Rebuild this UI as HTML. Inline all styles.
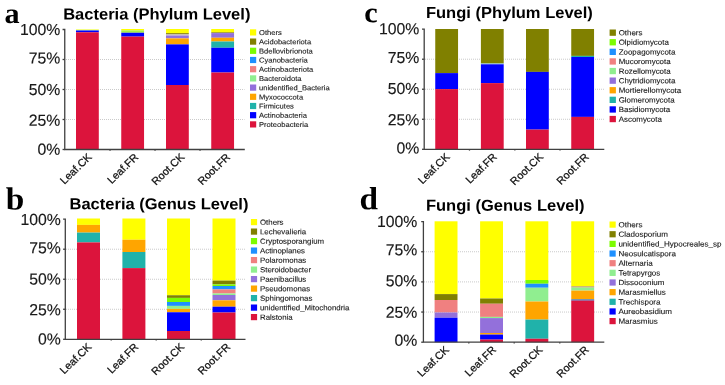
<!DOCTYPE html>
<html lang="en"><head><meta charset="utf-8"><title>Microbial community composition</title>
<style>html,body{margin:0;padding:0;background:#fff;}svg{display:block}text{font-family:"Liberation Sans",sans-serif;fill:#1a1a1a;text-rendering:geometricPrecision}.pl{font-family:"Liberation Serif","DejaVu Serif",serif;font-weight:bold;fill:#000}.tt{font-weight:bold;fill:#000}.xl{fill:#111;stroke:#111;stroke-width:0.25}.lg{fill:#1a1a1a;stroke:#1a1a1a;stroke-width:0.12}.yl{fill:#1a1a1a;stroke:#1a1a1a;stroke-width:0.15}.g{stroke:#bcbcbc;stroke-width:0.8;stroke-dasharray:1 1;fill:none}.ax{stroke:#404040;stroke-width:1.3;fill:none}</style></head><body>
<svg width="725" height="385" viewBox="0 0 725 385">
<rect width="725" height="385" fill="#fff"/>
<g id="chart-a">
<text class="pl" transform="translate(4.50 23.00) scale(1.04 1) rotate(0.03)" font-size="29">a</text>
<text class="tt" transform="translate(63.20 19.40) scale(1.039 1) rotate(0.03)" font-size="15.9">Bacteria (Phylum Level)</text>
<line class="g" x1="66" y1="119.50" x2="244.5" y2="119.50"/>
<line class="g" x1="66" y1="89.50" x2="244.5" y2="89.50"/>
<line class="g" x1="66" y1="59.50" x2="244.5" y2="59.50"/>
<rect x="76" y="29.4" width="22.8" height="0.50" fill="#FFFF00"/>
<rect x="76" y="29.9" width="22.8" height="0.60" fill="#90EE90"/>
<rect x="76" y="30.5" width="22.8" height="1.80" fill="#0000FF"/>
<rect x="76" y="32.3" width="22.8" height="117.20" fill="#DC143C"/>
<rect x="121.25" y="29.0" width="22.8" height="1.40" fill="#FFFF00"/>
<rect x="121.25" y="30.4" width="22.8" height="2.35" fill="#A8F040"/>
<rect x="121.25" y="32.75" width="22.8" height="3.85" fill="#0000FF"/>
<rect x="121.25" y="36.6" width="22.8" height="112.90" fill="#DC143C"/>
<rect x="166" y="29.0" width="22.8" height="4.00" fill="#FFFF00"/>
<rect x="166" y="33.0" width="22.8" height="1.00" fill="#989020"/>
<rect x="166" y="34.0" width="22.8" height="1.50" fill="#C8C0B0"/>
<rect x="166" y="35.5" width="22.8" height="2.90" fill="#9370DB"/>
<rect x="166" y="38.4" width="22.8" height="6.00" fill="#FFA500"/>
<rect x="166" y="44.4" width="22.8" height="40.60" fill="#0000FF"/>
<rect x="166" y="85.0" width="22.8" height="64.50" fill="#DC143C"/>
<rect x="211.25" y="29.0" width="22.8" height="3.20" fill="#FFFF00"/>
<rect x="211.25" y="32.2" width="22.8" height="0.90" fill="#989020"/>
<rect x="211.25" y="33.1" width="22.8" height="4.65" fill="#9370DB"/>
<rect x="211.25" y="37.75" width="22.8" height="3.75" fill="#FFA500"/>
<rect x="211.25" y="41.5" width="22.8" height="6.25" fill="#20B2AA"/>
<rect x="211.25" y="47.75" width="22.8" height="24.75" fill="#0000FF"/>
<rect x="211.25" y="72.5" width="22.8" height="77.00" fill="#DC143C"/>
<path class="ax" d="M62.55 29.5H64.75V149.5H244.8"/>
<line class="ax" x1="62.55" y1="149.50" x2="64.75" y2="149.50"/>
<line class="ax" x1="62.55" y1="119.50" x2="64.75" y2="119.50"/>
<line class="ax" x1="62.55" y1="89.50" x2="64.75" y2="89.50"/>
<line class="ax" x1="62.55" y1="59.50" x2="64.75" y2="59.50"/>
<line class="ax" x1="110.03" y1="149.5" x2="110.03" y2="150.8"/>
<line class="ax" x1="155.03" y1="149.5" x2="155.03" y2="150.8"/>
<line class="ax" x1="200.03" y1="149.5" x2="200.03" y2="150.8"/>
<text class="yl" transform="translate(60.30 35.10) scale(0.985 1) rotate(0.03)" font-size="16" text-anchor="end">100%</text>
<text class="yl" transform="translate(60.30 63.50) scale(0.985 1) rotate(0.03)" font-size="16" text-anchor="end">75%</text>
<text class="yl" transform="translate(60.30 94.90) scale(0.985 1) rotate(0.03)" font-size="16" text-anchor="end">50%</text>
<text class="yl" transform="translate(60.30 125.70) scale(0.985 1) rotate(0.03)" font-size="16" text-anchor="end">25%</text>
<text class="yl" transform="translate(60.30 154.65) scale(0.985 1) rotate(0.03)" font-size="16" text-anchor="end">0%</text>
<text class="xl" transform="translate(92.40 157.80) scale(1.04 1) rotate(-45)" font-size="10.5" text-anchor="end">Leaf.CK</text>
<text class="xl" transform="translate(139.15 157.80) scale(1.04 1) rotate(-45)" font-size="10.5" text-anchor="end">Leaf.FR</text>
<text class="xl" transform="translate(185.10 157.80) scale(1.04 1) rotate(-45)" font-size="10.5" text-anchor="end">Root.CK</text>
<text class="xl" transform="translate(230.95 157.80) scale(1.04 1) rotate(-45)" font-size="10.5" text-anchor="end">Root.FR</text>
<rect x="250" y="29.30" width="6.2" height="6.2" fill="#FFFF00"/>
<text class="lg" transform="translate(259.00 35.00) scale(1.066 1) rotate(0.03)" font-size="7.1">Others</text>
<rect x="250" y="38.50" width="6.2" height="6.2" fill="#808000"/>
<text class="lg" transform="translate(259.00 44.20) scale(1.066 1) rotate(0.03)" font-size="7.1">Acidobacteriota</text>
<rect x="250" y="47.70" width="6.2" height="6.2" fill="#7CFC00"/>
<text class="lg" transform="translate(259.00 53.40) scale(1.066 1) rotate(0.03)" font-size="7.1">Bdellovibrionota</text>
<rect x="250" y="56.90" width="6.2" height="6.2" fill="#1E90FF"/>
<text class="lg" transform="translate(259.00 62.60) scale(1.066 1) rotate(0.03)" font-size="7.1">Cyanobacteria</text>
<rect x="250" y="66.10" width="6.2" height="6.2" fill="#F08080"/>
<text class="lg" transform="translate(259.00 71.80) scale(1.066 1) rotate(0.03)" font-size="7.1">Actinobacteriota</text>
<rect x="250" y="75.30" width="6.2" height="6.2" fill="#90EE90"/>
<text class="lg" transform="translate(259.00 81.00) scale(1.066 1) rotate(0.03)" font-size="7.1">Bacteroidota</text>
<rect x="250" y="84.50" width="6.2" height="6.2" fill="#9370DB"/>
<text class="lg" transform="translate(259.00 90.20) scale(1.066 1) rotate(0.03)" font-size="7.1">unidentified_Bacteria</text>
<rect x="250" y="93.70" width="6.2" height="6.2" fill="#FFA500"/>
<text class="lg" transform="translate(259.00 99.40) scale(1.066 1) rotate(0.03)" font-size="7.1">Myxococcota</text>
<rect x="250" y="102.90" width="6.2" height="6.2" fill="#20B2AA"/>
<text class="lg" transform="translate(259.00 108.60) scale(1.066 1) rotate(0.03)" font-size="7.1">Firmicutes</text>
<rect x="250" y="112.10" width="6.2" height="6.2" fill="#0000FF"/>
<text class="lg" transform="translate(259.00 117.80) scale(1.066 1) rotate(0.03)" font-size="7.1">Actinobacteria</text>
<rect x="250" y="121.30" width="6.2" height="6.2" fill="#DC143C"/>
<text class="lg" transform="translate(259.00 127.00) scale(1.066 1) rotate(0.03)" font-size="7.1">Proteobacteria</text>
</g>
<g id="chart-b">
<text class="pl" transform="translate(5.70 209.60) scale(1.04 1) rotate(0.03)" font-size="32">b</text>
<text class="tt" transform="translate(69.50 209.30) scale(1.039 1) rotate(0.03)" font-size="15.9">Bacteria (Genus Level)</text>
<line class="g" x1="66" y1="309.27" x2="245" y2="309.27"/>
<line class="g" x1="66" y1="279.25" x2="245" y2="279.25"/>
<line class="g" x1="66" y1="249.22" x2="245" y2="249.22"/>
<rect x="77" y="218.5" width="23" height="6.40" fill="#FFFF00"/>
<rect x="77" y="224.9" width="23" height="7.70" fill="#FFA500"/>
<rect x="77" y="232.6" width="23" height="9.80" fill="#20B2AA"/>
<rect x="77" y="242.4" width="23" height="96.90" fill="#DC143C"/>
<rect x="122.4" y="218.5" width="23" height="21.25" fill="#FFFF00"/>
<rect x="122.4" y="239.75" width="23" height="12.25" fill="#FFA500"/>
<rect x="122.4" y="252.0" width="23" height="16.10" fill="#20B2AA"/>
<rect x="122.4" y="268.1" width="23" height="71.20" fill="#DC143C"/>
<rect x="167" y="218.5" width="23" height="76.75" fill="#FFFF00"/>
<rect x="167" y="295.25" width="23" height="2.65" fill="#808000"/>
<rect x="167" y="297.9" width="23" height="4.10" fill="#7CFC00"/>
<rect x="167" y="302.0" width="23" height="3.90" fill="#1E90FF"/>
<rect x="167" y="305.9" width="23" height="3.00" fill="#90EE90"/>
<rect x="167" y="308.9" width="23" height="3.35" fill="#FFA500"/>
<rect x="167" y="312.25" width="23" height="18.75" fill="#0000FF"/>
<rect x="167" y="331.0" width="23" height="8.30" fill="#DC143C"/>
<rect x="212.5" y="218.5" width="23" height="62.10" fill="#FFFF00"/>
<rect x="212.5" y="280.6" width="23" height="3.80" fill="#808000"/>
<rect x="212.5" y="284.4" width="23" height="1.60" fill="#7CFC00"/>
<rect x="212.5" y="286.0" width="23" height="3.40" fill="#1E90FF"/>
<rect x="212.5" y="289.4" width="23" height="4.10" fill="#F08080"/>
<rect x="212.5" y="293.5" width="23" height="1.50" fill="#90EE90"/>
<rect x="212.5" y="295.0" width="23" height="5.30" fill="#9370DB"/>
<rect x="212.5" y="300.3" width="23" height="6.40" fill="#FFA500"/>
<rect x="212.5" y="306.7" width="23" height="5.80" fill="#0000FF"/>
<rect x="212.5" y="312.5" width="23" height="26.80" fill="#DC143C"/>
<path class="ax" d="M63.099999999999994 219.2H65.3V339.3H245.5"/>
<line class="ax" x1="63.099999999999994" y1="339.30" x2="65.3" y2="339.30"/>
<line class="ax" x1="63.099999999999994" y1="309.27" x2="65.3" y2="309.27"/>
<line class="ax" x1="63.099999999999994" y1="279.25" x2="65.3" y2="279.25"/>
<line class="ax" x1="63.099999999999994" y1="249.22" x2="65.3" y2="249.22"/>
<line class="ax" x1="111.20" y1="339.3" x2="111.20" y2="340.6"/>
<line class="ax" x1="156.20" y1="339.3" x2="156.20" y2="340.6"/>
<line class="ax" x1="201.25" y1="339.3" x2="201.25" y2="340.6"/>
<text class="yl" transform="translate(60.70 225.10) scale(0.985 1) rotate(0.03)" font-size="16" text-anchor="end">100%</text>
<text class="yl" transform="translate(60.70 253.20) scale(0.985 1) rotate(0.03)" font-size="16" text-anchor="end">75%</text>
<text class="yl" transform="translate(60.70 284.50) scale(0.985 1) rotate(0.03)" font-size="16" text-anchor="end">50%</text>
<text class="yl" transform="translate(60.70 315.30) scale(0.985 1) rotate(0.03)" font-size="16" text-anchor="end">25%</text>
<text class="yl" transform="translate(60.70 344.40) scale(0.985 1) rotate(0.03)" font-size="16" text-anchor="end">0%</text>
<text class="xl" transform="translate(92.20 347.60) scale(1.04 1) rotate(-45)" font-size="10.5" text-anchor="end">Leaf.CK</text>
<text class="xl" transform="translate(139.10 347.60) scale(1.04 1) rotate(-45)" font-size="10.5" text-anchor="end">Leaf.FR</text>
<text class="xl" transform="translate(184.90 347.60) scale(1.04 1) rotate(-45)" font-size="10.5" text-anchor="end">Root.CK</text>
<text class="xl" transform="translate(231.00 347.60) scale(1.04 1) rotate(-45)" font-size="10.5" text-anchor="end">Root.FR</text>
<rect x="250.9" y="219.00" width="6.2" height="6.2" fill="#FFFF00"/>
<text class="lg" transform="translate(260.00 224.70) scale(1.066 1) rotate(0.03)" font-size="7.36">Others</text>
<rect x="250.9" y="228.50" width="6.2" height="6.2" fill="#808000"/>
<text class="lg" transform="translate(260.00 234.20) scale(1.066 1) rotate(0.03)" font-size="7.36">Lechevalieria</text>
<rect x="250.9" y="238.00" width="6.2" height="6.2" fill="#7CFC00"/>
<text class="lg" transform="translate(260.00 243.70) scale(1.066 1) rotate(0.03)" font-size="7.36">Cryptosporangium</text>
<rect x="250.9" y="247.50" width="6.2" height="6.2" fill="#1E90FF"/>
<text class="lg" transform="translate(260.00 253.20) scale(1.066 1) rotate(0.03)" font-size="7.36">Actinoplanes</text>
<rect x="250.9" y="257.00" width="6.2" height="6.2" fill="#F08080"/>
<text class="lg" transform="translate(260.00 262.70) scale(1.066 1) rotate(0.03)" font-size="7.36">Polaromonas</text>
<rect x="250.9" y="266.50" width="6.2" height="6.2" fill="#90EE90"/>
<text class="lg" transform="translate(260.00 272.20) scale(1.066 1) rotate(0.03)" font-size="7.36">Steroidobacter</text>
<rect x="250.9" y="276.00" width="6.2" height="6.2" fill="#9370DB"/>
<text class="lg" transform="translate(260.00 281.70) scale(1.066 1) rotate(0.03)" font-size="7.36">Paenibacillus</text>
<rect x="250.9" y="285.50" width="6.2" height="6.2" fill="#FFA500"/>
<text class="lg" transform="translate(260.00 291.20) scale(1.066 1) rotate(0.03)" font-size="7.36">Pseudomonas</text>
<rect x="250.9" y="295.00" width="6.2" height="6.2" fill="#20B2AA"/>
<text class="lg" transform="translate(260.00 300.70) scale(1.066 1) rotate(0.03)" font-size="7.36">Sphingomonas</text>
<rect x="250.9" y="304.50" width="6.2" height="6.2" fill="#0000FF"/>
<text class="lg" transform="translate(260.00 310.20) scale(1.066 1) rotate(0.03)" font-size="7.36">unidentified_Mitochondria</text>
<rect x="250.9" y="314.00" width="6.2" height="6.2" fill="#DC143C"/>
<text class="lg" transform="translate(260.00 319.70) scale(1.066 1) rotate(0.03)" font-size="7.36">Ralstonia</text>
</g>
<g id="chart-c">
<text class="pl" transform="translate(364.30 22.30) scale(1.04 1) rotate(0.03)" font-size="29">c</text>
<text class="tt" transform="translate(425.90 18.00) scale(1.039 1) rotate(0.03)" font-size="15.9">Fungi (Phylum Level)</text>
<line class="g" x1="425" y1="119.28" x2="604" y2="119.28"/>
<line class="g" x1="425" y1="89.25" x2="604" y2="89.25"/>
<line class="g" x1="425" y1="59.23" x2="604" y2="59.23"/>
<rect x="435.25" y="29.0" width="22.8" height="44.10" fill="#808000"/>
<rect x="435.25" y="73.1" width="22.8" height="16.00" fill="#0000FF"/>
<rect x="435.25" y="89.1" width="22.8" height="60.20" fill="#DC143C"/>
<rect x="480.9" y="29.0" width="22.8" height="34.50" fill="#808000"/>
<rect x="480.9" y="63.5" width="22.8" height="0.80" fill="#80C0E0"/>
<rect x="480.9" y="64.3" width="22.8" height="18.80" fill="#0000FF"/>
<rect x="480.9" y="83.1" width="22.8" height="66.20" fill="#DC143C"/>
<rect x="526" y="29.0" width="22.8" height="42.90" fill="#808000"/>
<rect x="526" y="71.9" width="22.8" height="57.70" fill="#0000FF"/>
<rect x="526" y="129.6" width="22.8" height="19.70" fill="#DC143C"/>
<rect x="571.25" y="29.0" width="22.8" height="26.90" fill="#808000"/>
<rect x="571.25" y="55.9" width="22.8" height="1.10" fill="#20B2AA"/>
<rect x="571.25" y="57.0" width="22.8" height="59.90" fill="#0000FF"/>
<rect x="571.25" y="116.9" width="22.8" height="32.40" fill="#DC143C"/>
<path class="ax" d="M422.0 29.2H424.2V149.3H604.3"/>
<line class="ax" x1="422.0" y1="149.30" x2="424.2" y2="149.30"/>
<line class="ax" x1="422.0" y1="119.28" x2="424.2" y2="119.28"/>
<line class="ax" x1="422.0" y1="89.25" x2="424.2" y2="89.25"/>
<line class="ax" x1="422.0" y1="59.23" x2="424.2" y2="59.23"/>
<line class="ax" x1="469.47" y1="149.3" x2="469.47" y2="150.60000000000002"/>
<line class="ax" x1="514.85" y1="149.3" x2="514.85" y2="150.60000000000002"/>
<line class="ax" x1="560.02" y1="149.3" x2="560.02" y2="150.60000000000002"/>
<text class="yl" transform="translate(419.30 34.30) scale(0.985 1) rotate(0.03)" font-size="16" text-anchor="end">100%</text>
<text class="yl" transform="translate(419.30 63.00) scale(0.985 1) rotate(0.03)" font-size="16" text-anchor="end">75%</text>
<text class="yl" transform="translate(419.30 94.00) scale(0.985 1) rotate(0.03)" font-size="16" text-anchor="end">50%</text>
<text class="yl" transform="translate(419.30 125.30) scale(0.985 1) rotate(0.03)" font-size="16" text-anchor="end">25%</text>
<text class="yl" transform="translate(419.30 153.40) scale(0.985 1) rotate(0.03)" font-size="16" text-anchor="end">0%</text>
<text class="xl" transform="translate(450.35 157.60) scale(1.04 1) rotate(-45)" font-size="10.5" text-anchor="end">Leaf.CK</text>
<text class="xl" transform="translate(497.50 157.60) scale(1.04 1) rotate(-45)" font-size="10.5" text-anchor="end">Leaf.FR</text>
<text class="xl" transform="translate(543.80 157.60) scale(1.04 1) rotate(-45)" font-size="10.5" text-anchor="end">Root.CK</text>
<text class="xl" transform="translate(589.65 157.60) scale(1.04 1) rotate(-45)" font-size="10.5" text-anchor="end">Root.FR</text>
<rect x="609.6" y="29.50" width="6.3" height="6.3" fill="#808000"/>
<text class="lg" transform="translate(618.70 35.25) scale(1.066 1) rotate(0.03)" font-size="7.43">Others</text>
<rect x="609.6" y="39.10" width="6.3" height="6.3" fill="#7CFC00"/>
<text class="lg" transform="translate(618.70 44.85) scale(1.066 1) rotate(0.03)" font-size="7.43">Olpidiomycota</text>
<rect x="609.6" y="48.70" width="6.3" height="6.3" fill="#1E90FF"/>
<text class="lg" transform="translate(618.70 54.45) scale(1.066 1) rotate(0.03)" font-size="7.43">Zoopagomycota</text>
<rect x="609.6" y="58.30" width="6.3" height="6.3" fill="#F08080"/>
<text class="lg" transform="translate(618.70 64.05) scale(1.066 1) rotate(0.03)" font-size="7.43">Mucoromycota</text>
<rect x="609.6" y="67.90" width="6.3" height="6.3" fill="#90EE90"/>
<text class="lg" transform="translate(618.70 73.65) scale(1.066 1) rotate(0.03)" font-size="7.43">Rozellomycota</text>
<rect x="609.6" y="77.50" width="6.3" height="6.3" fill="#9370DB"/>
<text class="lg" transform="translate(618.70 83.25) scale(1.066 1) rotate(0.03)" font-size="7.43">Chytridiomycota</text>
<rect x="609.6" y="87.10" width="6.3" height="6.3" fill="#FFA500"/>
<text class="lg" transform="translate(618.70 92.85) scale(1.066 1) rotate(0.03)" font-size="7.43">Mortierellomycota</text>
<rect x="609.6" y="96.70" width="6.3" height="6.3" fill="#20B2AA"/>
<text class="lg" transform="translate(618.70 102.45) scale(1.066 1) rotate(0.03)" font-size="7.43">Glomeromycota</text>
<rect x="609.6" y="106.30" width="6.3" height="6.3" fill="#0000FF"/>
<text class="lg" transform="translate(618.70 112.05) scale(1.066 1) rotate(0.03)" font-size="7.43">Basidiomycota</text>
<rect x="609.6" y="115.90" width="6.3" height="6.3" fill="#DC143C"/>
<text class="lg" transform="translate(618.70 121.65) scale(1.066 1) rotate(0.03)" font-size="7.43">Ascomycota</text>
</g>
<g id="chart-d">
<text class="pl" transform="translate(359.50 209.30) scale(1.04 1) rotate(0.03)" font-size="32">d</text>
<text class="tt" transform="translate(425.90 210.70) scale(1.039 1) rotate(0.03)" font-size="15.9">Fungi (Genus Level)</text>
<line class="g" x1="424" y1="312.05" x2="604" y2="312.05"/>
<line class="g" x1="424" y1="281.90" x2="604" y2="281.90"/>
<line class="g" x1="424" y1="251.75" x2="604" y2="251.75"/>
<rect x="434.6" y="221.3" width="22.9" height="72.80" fill="#FFFF00"/>
<rect x="434.6" y="294.1" width="22.9" height="5.90" fill="#808000"/>
<rect x="434.6" y="300.0" width="22.9" height="12.50" fill="#F08080"/>
<rect x="434.6" y="312.5" width="22.9" height="5.25" fill="#9370DB"/>
<rect x="434.6" y="317.75" width="22.9" height="24.45" fill="#0000FF"/>
<rect x="480.1" y="221.3" width="22.9" height="77.20" fill="#FFFF00"/>
<rect x="480.1" y="298.5" width="22.9" height="5.25" fill="#808000"/>
<rect x="480.1" y="303.75" width="22.9" height="13.15" fill="#F08080"/>
<rect x="480.1" y="316.9" width="22.9" height="1.20" fill="#90EE90"/>
<rect x="480.1" y="318.1" width="22.9" height="14.90" fill="#9370DB"/>
<rect x="480.1" y="333.0" width="22.9" height="1.60" fill="#FFA500"/>
<rect x="480.1" y="334.6" width="22.9" height="5.00" fill="#0000FF"/>
<rect x="480.1" y="339.6" width="22.9" height="2.60" fill="#DC143C"/>
<rect x="525.4" y="221.3" width="22.9" height="58.70" fill="#FFFF00"/>
<rect x="525.4" y="280.0" width="22.9" height="3.75" fill="#7CFC00"/>
<rect x="525.4" y="283.75" width="22.9" height="4.00" fill="#1E90FF"/>
<rect x="525.4" y="287.75" width="22.9" height="13.75" fill="#90EE90"/>
<rect x="525.4" y="301.5" width="22.9" height="18.10" fill="#FFA500"/>
<rect x="525.4" y="319.6" width="22.9" height="19.15" fill="#20B2AA"/>
<rect x="525.4" y="338.75" width="22.9" height="3.45" fill="#DC143C"/>
<rect x="571.25" y="221.3" width="22.9" height="64.95" fill="#FFFF00"/>
<rect x="571.25" y="286.25" width="22.9" height="1.35" fill="#C0A060"/>
<rect x="571.25" y="287.6" width="22.9" height="3.00" fill="#90EE90"/>
<rect x="571.25" y="290.6" width="22.9" height="8.80" fill="#FFA500"/>
<rect x="571.25" y="299.4" width="22.9" height="1.20" fill="#2060C0"/>
<rect x="571.25" y="300.6" width="22.9" height="41.60" fill="#DC143C"/>
<path class="ax" d="M421.2 221.6H423.4V342.2H604.3"/>
<line class="ax" x1="421.2" y1="342.20" x2="423.4" y2="342.20"/>
<line class="ax" x1="421.2" y1="312.05" x2="423.4" y2="312.05"/>
<line class="ax" x1="421.2" y1="281.90" x2="423.4" y2="281.90"/>
<line class="ax" x1="421.2" y1="251.75" x2="423.4" y2="251.75"/>
<line class="ax" x1="468.80" y1="342.2" x2="468.80" y2="343.5"/>
<line class="ax" x1="514.20" y1="342.2" x2="514.20" y2="343.5"/>
<line class="ax" x1="559.78" y1="342.2" x2="559.78" y2="343.5"/>
<text class="yl" transform="translate(417.30 227.00) scale(0.985 1) rotate(0.03)" font-size="16" text-anchor="end">100%</text>
<text class="yl" transform="translate(417.30 255.30) scale(0.985 1) rotate(0.03)" font-size="16" text-anchor="end">75%</text>
<text class="yl" transform="translate(417.30 286.30) scale(0.985 1) rotate(0.03)" font-size="16" text-anchor="end">50%</text>
<text class="yl" transform="translate(417.30 317.70) scale(0.985 1) rotate(0.03)" font-size="16" text-anchor="end">25%</text>
<text class="yl" transform="translate(417.30 345.80) scale(0.985 1) rotate(0.03)" font-size="16" text-anchor="end">0%</text>
<text class="xl" transform="translate(449.75 350.50) scale(1.04 1) rotate(-45)" font-size="10.5" text-anchor="end">Leaf.CK</text>
<text class="xl" transform="translate(496.75 350.50) scale(1.04 1) rotate(-45)" font-size="10.5" text-anchor="end">Leaf.FR</text>
<text class="xl" transform="translate(543.25 350.50) scale(1.04 1) rotate(-45)" font-size="10.5" text-anchor="end">Root.CK</text>
<text class="xl" transform="translate(589.70 350.50) scale(1.04 1) rotate(-45)" font-size="10.5" text-anchor="end">Root.FR</text>
<rect x="609.5" y="221.50" width="6.2" height="6.2" fill="#FFFF00"/>
<text class="lg" transform="translate(618.40 227.20) scale(1.066 1) rotate(0.03)" font-size="7.54">Others</text>
<rect x="609.5" y="231.15" width="6.2" height="6.2" fill="#808000"/>
<text class="lg" transform="translate(618.40 236.85) scale(1.066 1) rotate(0.03)" font-size="7.54">Cladosporium</text>
<rect x="609.5" y="240.80" width="6.2" height="6.2" fill="#7CFC00"/>
<text class="lg" transform="translate(618.40 246.50) scale(1.066 1) rotate(0.03)" font-size="7.54">unidentified_Hypocreales_sp</text>
<rect x="609.5" y="250.45" width="6.2" height="6.2" fill="#1E90FF"/>
<text class="lg" transform="translate(618.40 256.15) scale(1.066 1) rotate(0.03)" font-size="7.54">Neosulcatispora</text>
<rect x="609.5" y="260.10" width="6.2" height="6.2" fill="#F08080"/>
<text class="lg" transform="translate(618.40 265.80) scale(1.066 1) rotate(0.03)" font-size="7.54">Alternaria</text>
<rect x="609.5" y="269.75" width="6.2" height="6.2" fill="#90EE90"/>
<text class="lg" transform="translate(618.40 275.45) scale(1.066 1) rotate(0.03)" font-size="7.54">Tetrapyrgos</text>
<rect x="609.5" y="279.40" width="6.2" height="6.2" fill="#9370DB"/>
<text class="lg" transform="translate(618.40 285.10) scale(1.066 1) rotate(0.03)" font-size="7.54">Dissoconium</text>
<rect x="609.5" y="289.05" width="6.2" height="6.2" fill="#FFA500"/>
<text class="lg" transform="translate(618.40 294.75) scale(1.066 1) rotate(0.03)" font-size="7.54">Marasmiellus</text>
<rect x="609.5" y="298.70" width="6.2" height="6.2" fill="#20B2AA"/>
<text class="lg" transform="translate(618.40 304.40) scale(1.066 1) rotate(0.03)" font-size="7.54">Trechispora</text>
<rect x="609.5" y="308.35" width="6.2" height="6.2" fill="#0000FF"/>
<text class="lg" transform="translate(618.40 314.05) scale(1.066 1) rotate(0.03)" font-size="7.54">Aureobasidium</text>
<rect x="609.5" y="318.00" width="6.2" height="6.2" fill="#DC143C"/>
<text class="lg" transform="translate(618.40 323.70) scale(1.066 1) rotate(0.03)" font-size="7.54">Marasmius</text>
</g>
</svg></body></html>
